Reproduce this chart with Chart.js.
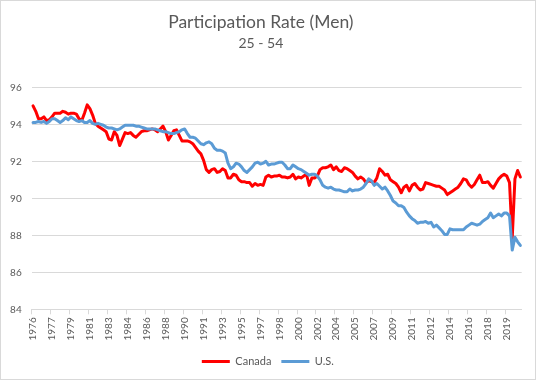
<!DOCTYPE html>
<html><head><meta charset="utf-8">
<script src="https://cdn.jsdelivr.net/npm/chart.js@4/dist/chart.umd.min.js"></script>
<style>html,body{margin:0;padding:0;background:#fff;}</style>
</head><body>
<canvas id="c" width="536" height="380"></canvas>
<script>
const categories = [
'1976Q1','1976Q2','1976Q3','1976Q4','1977Q1','1977Q2','1977Q3','1977Q4',
'1978Q1','1978Q2','1978Q3','1978Q4','1979Q1','1979Q2','1979Q3','1979Q4',
'1980Q1','1980Q2','1980Q3','1980Q4','1981Q1','1981Q2','1981Q3','1981Q4',
'1982Q1','1982Q2','1982Q3','1982Q4','1983Q1','1983Q2','1983Q3','1983Q4',
'1984Q1','1984Q2','1984Q3','1984Q4','1985Q1','1985Q2','1985Q3','1985Q4',
'1986Q1','1986Q2','1986Q3','1986Q4','1987Q1','1987Q2','1987Q3','1987Q4',
'1988Q1','1988Q2','1988Q3','1988Q4','1989Q1','1989Q2','1989Q3','1989Q4',
'1990Q1','1990Q2','1990Q3','1990Q4','1991Q1','1991Q2','1991Q3','1991Q4',
'1992Q1','1992Q2','1992Q3','1992Q4','1993Q1','1993Q2','1993Q3','1993Q4',
'1994Q1','1994Q2','1994Q3','1994Q4','1995Q1','1995Q2','1995Q3','1995Q4',
'1996Q1','1996Q2','1996Q3','1996Q4','1997Q1','1997Q2','1997Q3','1997Q4',
'1998Q1','1998Q2','1998Q3','1998Q4','1999Q1','1999Q2','1999Q3','1999Q4',
'2000Q1','2000Q2','2000Q3','2000Q4','2001Q1','2001Q2','2001Q3','2001Q4',
'2002Q1','2002Q2','2002Q3','2002Q4','2003Q1','2003Q2','2003Q3','2003Q4',
'2004Q1','2004Q2','2004Q3','2004Q4','2005Q1','2005Q2','2005Q3','2005Q4',
'2006Q1','2006Q2','2006Q3','2006Q4','2007Q1','2007Q2','2007Q3','2007Q4',
'2008Q1','2008Q2','2008Q3','2008Q4','2009Q1','2009Q2','2009Q3','2009Q4',
'2010Q1','2010Q2','2010Q3','2010Q4','2011Q1','2011Q2','2011Q3','2011Q4',
'2012Q1','2012Q2','2012Q3','2012Q4','2013Q1','2013Q2','2013Q3','2013Q4',
'2014Q1','2014Q2','2014Q3','2014Q4','2015Q1','2015Q2','2015Q3','2015Q4',
'2016Q1','2016Q2','2016Q3','2016Q4','2017Q1','2017Q2','2017Q3','2017Q4',
'2018Q1','2018Q2','2018Q3','2018Q4','2019Q1','2019Q2','2019Q3','2019Q4',
'2020Q1','2020Q2','2020Q3','2020Q4','2021Q1'
];

const tickLabels = ['1976','1977','1979','1981','1983','1984','1986','1988','1990','1991',
'1993','1995','1997','1998','2000','2002','2004','2005','2007','2009','2011','2012','2014',
'2016','2018','2019'];
const tickEvery = 7;

const canada = [
95.0,94.7,94.3,94.3,94.4,94.2,94.25,94.4,94.6,94.6,
94.6,94.7,94.65,94.55,94.6,94.6,94.55,94.3,94.2,94.6,
95.05,94.85,94.5,94.05,93.9,93.8,93.7,93.6,93.2,93.15,
93.6,93.4,92.85,93.2,93.55,93.5,93.55,93.4,93.3,93.45,
93.6,93.65,93.65,93.7,93.75,93.7,93.6,93.75,93.9,93.6,
93.15,93.4,93.65,93.7,93.4,93.1,93.1,93.1,93.05,92.95,
92.75,92.55,92.4,92.05,91.55,91.4,91.55,91.6,91.4,91.45,
91.6,91.5,91.1,91.1,91.3,91.25,91.0,90.9,90.9,90.85,
90.85,90.65,90.8,90.7,90.75,90.7,91.15,91.25,91.15,91.2,
91.2,91.25,91.15,91.15,91.1,91.15,91.3,91.05,91.15,91.1,
91.2,91.3,90.7,91.1,91.1,91.2,91.55,91.65,91.65,91.7,
91.8,91.55,91.7,91.5,91.45,91.65,91.6,91.5,91.4,91.2,
91.05,91.15,91.05,90.85,90.95,90.9,90.85,91.1,91.6,91.45,
91.25,91.3,91.0,90.9,90.8,90.6,90.3,90.6,90.7,90.4,
90.7,90.8,90.6,90.45,90.5,90.85,90.8,90.75,90.7,90.65,
90.65,90.55,90.45,90.2,90.3,90.4,90.5,90.6,90.8,91.05,
91.0,90.75,90.6,90.75,91.0,91.25,90.85,90.85,90.9,90.7,
90.55,90.8,91.05,91.2,91.3,91.2,90.85,87.85,91.05,91.5,
91.15
];

const us = [
94.1,94.1,94.15,94.1,94.15,94.05,94.15,94.3,94.3,94.2,
94.1,94.2,94.35,94.25,94.4,94.3,94.2,94.15,94.2,94.1,
94.1,94.2,94.05,94.0,94.05,94.0,93.95,93.85,93.8,93.8,
93.75,93.7,93.75,93.85,93.95,93.95,93.95,93.95,93.9,93.9,
93.85,93.8,93.75,93.75,93.75,93.75,93.7,93.65,93.6,93.6,
93.55,93.5,93.5,93.55,93.6,93.7,93.75,93.5,93.3,93.3,
93.25,93.1,92.95,92.9,93.0,93.05,92.95,92.7,92.6,92.6,
92.55,92.45,91.9,91.6,91.7,91.9,91.85,91.7,91.5,91.4,
91.55,91.7,91.9,91.95,91.85,91.9,92.0,91.8,91.85,91.85,
91.9,91.95,91.95,91.8,91.6,91.6,91.8,91.7,91.6,91.55,
91.45,91.35,91.25,91.3,91.3,91.2,91.0,90.7,90.6,90.55,
90.6,90.5,90.45,90.45,90.4,90.35,90.35,90.5,90.4,90.45,
90.45,90.5,90.6,90.8,91.05,90.95,90.7,90.8,90.65,90.5,
90.6,90.4,90.15,89.85,89.75,89.6,89.6,89.5,89.25,89.05,
88.9,88.8,88.65,88.7,88.7,88.75,88.65,88.7,88.45,88.55,
88.4,88.25,88.05,88.05,88.35,88.3,88.3,88.3,88.3,88.3,
88.45,88.55,88.65,88.6,88.55,88.6,88.75,88.85,88.95,89.2,
88.95,89.05,89.15,89.05,89.2,89.2,89.05,87.2,87.9,87.65,
87.45
];

const seriesNames = ['Canada', 'U.S.'];
const seriesColors = ['#FF0000', '#5B9BD5'];
const yMin = 84, yMax = 96, yStep = 2;

const TEXT = '#595959';
const GRID = '#D9D9D9';
const FONT = 'Lato';

const frame = {
  id: 'frame',
  afterLayout(chart) {
    if (chart.legend) { chart.legend.left += 7; chart.legend.right += 7; }
  },
  beforeDraw(chart) {
    const c = chart.ctx; c.save(); c.fillStyle = '#fff'; c.fillRect(0, 0, chart.width, chart.height); c.restore();
  },
  afterDraw(chart) {
    const c = chart.ctx; c.save(); c.strokeStyle = GRID; c.lineWidth = 1;
    c.strokeRect(0.5, 0.5, chart.width - 1, chart.height - 1); c.restore();
  }
};

new Chart(document.getElementById('c'), {
  type: 'line',
  data: {
    labels: categories,
    datasets: [
      { label: seriesNames[0], data: canada, borderColor: seriesColors[0], backgroundColor: seriesColors[0],
        borderWidth: 3, pointRadius: 0, tension: 0, borderJoinStyle: 'round', borderCapStyle: 'round', order: 1 },
      { label: seriesNames[1], data: us, borderColor: seriesColors[1], backgroundColor: seriesColors[1],
        borderWidth: 3, pointRadius: 0, tension: 0, borderJoinStyle: 'round', borderCapStyle: 'round', order: 0 }
    ]
  },
  options: {
    responsive: false,
    animation: false,
    events: [],
    layout: { padding: { left: 0, right: 14.3, top: 0, bottom: 3 } },
    plugins: {
      title: { display: true, text: 'Participation Rate (Men)', color: TEXT,
        font: { family: FONT, size: 17.5, weight: 'normal' }, padding: { top: 12, bottom: 0 } },
      subtitle: { display: true, text: '25 - 54', color: TEXT,
        font: { family: FONT, size: 14, weight: 'normal' }, padding: { top: 2.5, bottom: 35 } },
      legend: { position: 'bottom',
        labels: { color: TEXT, font: { family: FONT, size: 11 }, boxWidth: 28, boxHeight: 3, padding: 10,
          generateLabels: (chart) => chart.data.datasets.map((ds, i) => ({
            text: ds.label, fillStyle: ds.borderColor, strokeStyle: ds.borderColor, lineWidth: 0,
            hidden: false, datasetIndex: i, fontColor: TEXT })) } },
      tooltip: { enabled: false }
    },
    scales: {
      x: {
        type: 'category', offset: true,
        grid: { offset: true, drawOnChartArea: false, drawTicks: true, tickLength: 5,
          color: (ctx) => (ctx.index % tickEvery === 0 ? GRID : 'rgba(0,0,0,0)') },
        border: { display: true, color: GRID, width: 1 },
        ticks: { autoSkip: false, minRotation: 90, maxRotation: 90, padding: 3, color: TEXT,
          font: { family: FONT, size: 10 },
          callback: (v, i) => (i % tickEvery === 0 ? tickLabels[i / tickEvery] : '') },
        afterFit: (s) => { s.height = 36.7; }
      },
      y: {
        min: yMin, max: yMax,
        ticks: { stepSize: yStep, padding: 10, color: TEXT, font: { family: FONT, size: 10 } },
        grid: { color: GRID, drawTicks: false },
        border: { display: false },
        afterFit: (s) => { s.width = 31.7; }
      }
    }
  },
  plugins: [frame]
});
</script>
</body></html>
